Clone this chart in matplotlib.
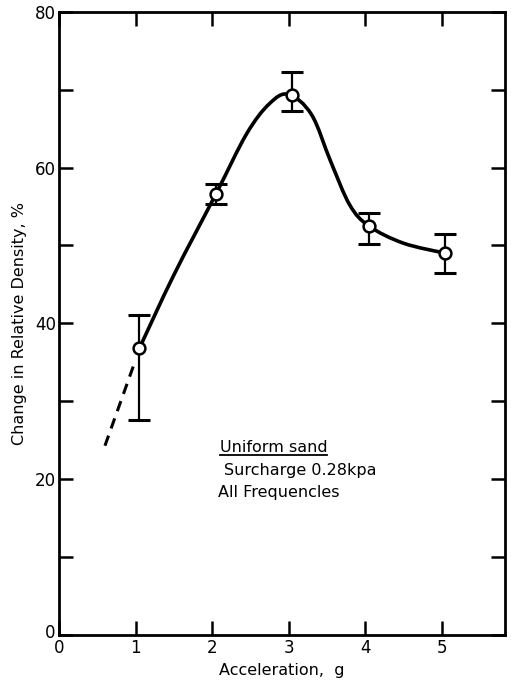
import numpy as np
import matplotlib
matplotlib.use("Agg")
import matplotlib.pyplot as plt
import matplotlib.transforms as mtransforms
from matplotlib.path import Path
from matplotlib.patches import PathPatch

# measured points (acceleration g, change in relative density %)
accel = [1.05, 2.05, 3.05, 4.05, 5.05]
density = [36.8, 56.6, 69.3, 52.5, 49.0]
err_low = [27.6, 55.3, 67.3, 50.2, 46.5]
err_high = [41.1, 57.9, 72.3, 54.2, 51.5]

# hand drawn trend curve
curve_x = [1.05, 1.5, 2.05, 2.45, 2.75, 3.0, 3.3, 3.55, 3.8, 4.05, 4.5, 5.05]
curve_y = [36.8, 46.2, 56.6, 64.3, 68.2, 69.4, 66.8, 60.8, 55.2, 52.5, 50.3, 49.0]

# dashed extrapolation below 1 g
dash_x = [0.6, 1.0]
dash_y = [24.3, 35.3]

x_ticks = [0, 1, 2, 3, 4, 5]
y_ticks = [0, 20, 40, 60, 80]

plt.rcParams["font.family"] = ["DejaVu Sans"]

fig = plt.figure(figsize=(5.18, 6.91), dpi=100)
ax = fig.add_axes([0.114, 0.081, 0.861, 0.902])

# smooth curve: catmull-rom through traced points -> bezier path
pts = np.column_stack([curve_x, curve_y])
verts = [tuple(pts[0])]
codes = [Path.MOVETO]
n = len(pts)
for i in range(n - 1):
    p0 = pts[max(i - 1, 0)]
    p1 = pts[i]
    p2 = pts[i + 1]
    p3 = pts[min(i + 2, n - 1)]
    c1 = p1 + (p2 - p0) / 6.0
    c2 = p2 - (p3 - p1) / 6.0
    verts += [tuple(c1), tuple(c2), tuple(p2)]
    codes += [Path.CURVE4] * 3
ax.add_patch(PathPatch(Path(verts, codes), fill=False, lw=2.6, color="black", zorder=2))

ax.plot(dash_x, dash_y, color="black", lw=2.2, ls=(0, (3.5, 2.5)), zorder=2)

yerr = [np.array(density) - np.array(err_low), np.array(err_high) - np.array(density)]
ax.errorbar(accel, density, yerr=yerr, fmt="none", ecolor="black", elinewidth=1.6,
            capsize=8, capthick=2.2, zorder=3)
ax.plot(accel, density, "o", ms=8.5, mfc="white", mec="black", mew=1.8, zorder=4)

t1 = ax.text(2.1, 23.5, "Uniform sand", fontsize=11.5, ha="left", va="baseline")
ax.text(2.15, 20.6, "Surcharge 0.28kpa", fontsize=11.5, ha="left", va="baseline")
ax.text(2.08, 17.7, "All Frequencles", fontsize=11.5, ha="left", va="baseline")

ax.set_xlim(0, 5.83)
ax.set_ylim(0, 80)
ax.set_xticks(x_ticks)
ax.set_yticks(y_ticks)
ax.set_yticks([10, 30, 50, 70], minor=True)
ax.tick_params(axis="both", which="both", direction="in", length=10, width=1.8,
               labelsize=12, top=True, right=True)
ax.tick_params(axis="x", pad=3)
ax.tick_params(axis="y", pad=2)

for s in ax.spines.values():
    s.set_linewidth(2)

ax.set_xlabel("Acceleration,  g", fontsize=11.5, labelpad=4)
ax.set_ylabel("Change in Relative Density, %", fontsize=11.5, labelpad=6)

# underline under "Uniform sand"
fig.canvas.draw()
bb = t1.get_window_extent().transformed(ax.transData.inverted())
ax.plot([bb.x0, bb.x1], [23.5 - 0.35, 23.5 - 0.35], color="black", lw=1.3)

# nudge the corner "0" on the y axis up a little, as in the original
lab0 = ax.get_yticklabels()[0]
lab0.set_transform(lab0.get_transform() + mtransforms.ScaledTranslation(-1 / 72, 3 / 72, fig.dpi_scale_trans))

fig.savefig("out.png", dpi=100)
